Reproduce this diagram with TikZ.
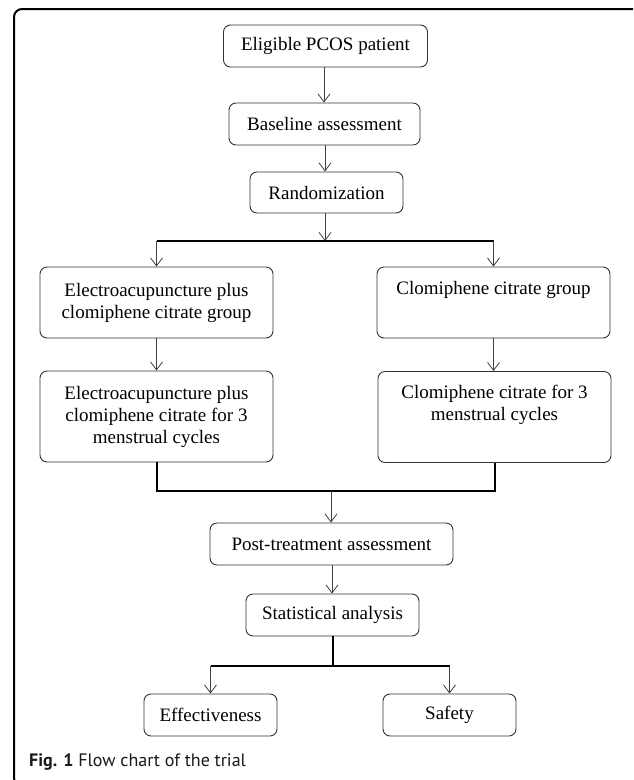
\documentclass[tikz,border=0pt]{standalone}
\usepackage{fontspec}
\setmainfont{Liberation Serif}
\newfontfamily\capfont{PT Sans}
\usetikzlibrary{arrows.meta}

\begin{document}
\begin{tikzpicture}[x=1pt,y=-1pt,
    box/.style={draw=black!80,rounded corners=7pt,line width=0.9pt,align=center,inner sep=0pt,
                font=\fontsize{19}{22}\selectfont},
    arr/.style={draw=black!75,line width=0.8pt,-{Straight Barb[length=8pt,width=12pt]}},
    bus/.style={line width=2pt}]
    \clip (0,0) rectangle (633,780);

    % Rahmen
    \draw[line width=2pt,rounded corners=8pt] (640,9) -- (14,9) -- (14,786) -- (640,786);

    % oben
    \node[box,minimum width=204pt,minimum height=42pt] (elig) at (325.5,46) {Eligible PCOS patient};
    \node[box,minimum width=191pt,minimum height=42pt] (base) at (324.5,124) {Baseline assessment};
    \node[box,minimum width=153pt,minimum height=41pt] (rand) at (326.5,192.5) {Randomization};
    \draw[arr] (elig.south -| 324,0) -- (base.north -| 324,0);
    \draw[arr] (base.south -| 325,0) -- (rand.north -| 325,0);

    % Gruppen
    \node[box,minimum width=233pt,minimum height=71pt] (grpL) at (156.5,302.5)
        {Electroacupuncture plus\\clomiphene citrate group};
    \node[box,minimum width=233pt,minimum height=71pt] (grpR) at (493.5,302.5)
        {Clomiphene citrate group\\ \strut};
    \node[box,minimum width=233pt,minimum height=91pt] (trtL) at (156.5,416.5)
        {Electroacupuncture plus\\clomiphene citrate for 3\\menstrual cycles};
    \node[box,minimum width=233pt,minimum height=91pt] (trtR) at (494.5,417)
        {Clomiphene citrate for 3\\menstrual cycles\\ \strut};

    % Verzweigung
    \coordinate (split) at (325,241);
    \draw[arr] (rand.south -| split) -- (split);
    \draw[bus] (grpL.north |- split) -- (grpR.north |- split);
    \draw[arr] (grpL.north |- split) -- (grpL.north);
    \draw[arr] (grpR.north |- split) -- (grpR.north);
    \draw[arr] (grpL.south) -- (trtL.north);
    \draw[arr] (grpR.south) -- (grpR.south |- trtR.north);

    % Zusammenfuehrung
    \coordinate (merge) at (331,491);
    \draw[bus] (trtL.south) -- (trtL.south |- merge) -- (trtR.south |- merge) -- (trtR.south);

    % unten
    \node[box,minimum width=243pt,minimum height=42pt] (post) at (331.5,544) {Post-treatment assessment};
    \node[box,minimum width=173pt,minimum height=42pt] (stat) at (332.5,615) {Statistical analysis};
    \node[box,minimum width=133pt,minimum height=42pt] (eff) at (210.5,715) {Effectiveness};
    \node[box,minimum width=133pt,minimum height=42pt] (safe) at (449.5,715) {Safety};
    \draw[arr] (merge) -- (merge |- post.north);
    \draw[arr] (post.south -| 332,0) -- (stat.north -| 332,0);

    \coordinate (split2) at (332.5,666);
    \draw[bus] (stat.south) -- (split2);
    \draw[bus] (eff.north |- split2) -- (safe.north |- split2);
    \draw[arr] (eff.north |- split2) -- (eff.north);
    \draw[arr] (safe.north |- split2) -- (safe.north);

    % Bildunterschrift
    \node[anchor=west,inner sep=0pt,text=black!90,font=\capfont\fontsize{18}{20}\selectfont] (cap) at (29,762)
        {\textbf{Fig. 1} Flow chart of the trial};
\end{tikzpicture}
\end{document}
